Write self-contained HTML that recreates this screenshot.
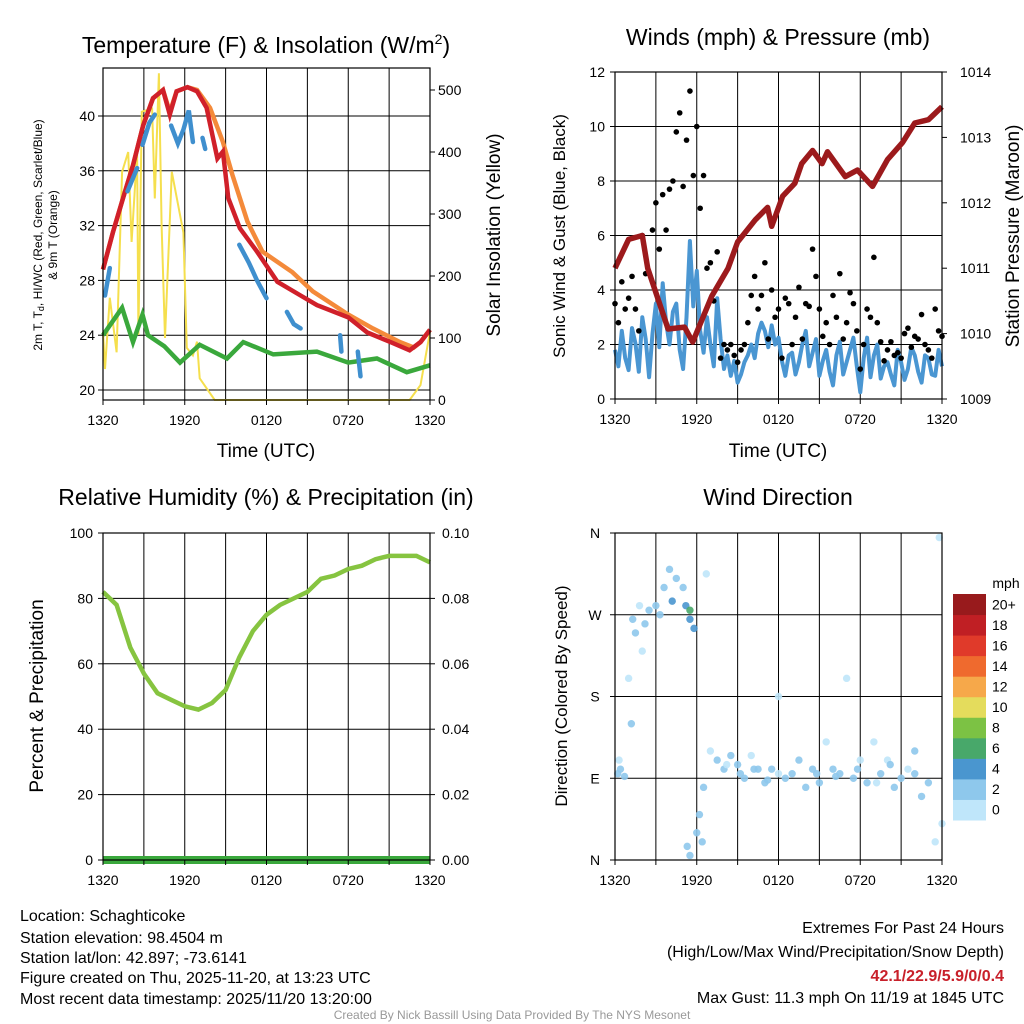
<!DOCTYPE html>
<html><head><meta charset="utf-8"><style>
body{margin:0;background:#fff;}
svg{display:block;font-family:"Liberation Sans",sans-serif;}
</style></head><body>
<svg id="s" width="1024" height="1024" viewBox="0 0 1024 1024" xmlns="http://www.w3.org/2000/svg">
<rect width="1024" height="1024" fill="#fff"/>
<g id="g"></g>
<g font-size="16" fill="#000">
<text x="20" y="921">Location: Schaghticoke</text>
<text x="20" y="943">Station elevation: 98.4504 m</text>
<text x="20" y="963">Station lat/lon: 42.897; -73.6141</text>
<text x="20" y="983">Figure created on Thu, 2025-11-20, at 13:23 UTC</text>
<text x="20" y="1004">Most recent data timestamp: 2025/11/20 13:20:00</text>
</g>
<g font-size="16" fill="#000" text-anchor="end">
<text x="1004" y="933">Extremes For Past 24 Hours</text>
<text x="1004" y="957">(High/Low/Max Wind/Precipitation/Snow Depth)</text>
<text x="1004" y="981" fill="#c8202a" font-weight="bold">42.1/22.9/5.9/0/0.4</text>
<text x="1004" y="1003">Max Gust: 11.3 mph On 11/19 at 1845 UTC</text>
</g>
<text x="512" y="1019" font-size="12" fill="#999" text-anchor="middle">Created By Nick Bassill Using Data Provided By The NYS Mesonet</text>
</svg>
<script>
// ---- data ----
const xTickLabels = ["1320","1920","0120","0720","1320"];
const redHours = [0,0.73,1.47,2.2,2.94,3.67,4.4,4.9,5.4,6.2,6.9,7.6,8.4,8.8,9.2,10.05,11.3,12.8,14.5,15.7,18,19.4,21.1,22.5,23.3,24];
const tempRed = [28.8,31.5,34.0,36.4,39.3,41.3,41.9,40.1,41.8,42.1,41.8,40.6,36.9,37.4,34.0,31.8,30.1,27.9,26.9,26.2,25.3,24.2,23.5,22.9,23.5,24.4];
const orangeHours = [0,0.73,1.47,2.2,2.94,3.67,4.4,4.9,5.4,6.2,6.9,7.85,8.8,9.5,10.6,11.7,13.9,15.4,18,19.8,21.8,22.8,23.3,24];
const tempOrange = [28.8,31.5,34.0,36.4,39.3,41.3,41.9,40.3,41.8,42.1,41.9,40.6,38.1,35.7,32.3,30.1,28.6,27.2,25.5,24.5,23.5,23.1,23.5,24.4];
const greenHours = [0,1.4,2.2,2.9,3.3,4.5,5.65,7.1,9.1,10.3,12.5,15.7,18,20.1,22.3,24];
const tempGreen = [24,26,23.5,25.5,24,23.2,22,23.3,22.3,23.5,22.6,22.8,22,22.3,21.3,21.8];
const hiSegHours = [[0.15,0.5],[1.8,2.5],[2.9,3.4,3.8],[5,5.5,5.9,6.3,6.6],[7.3,7.5],[10,10.7,11.3,12],[13.5,14,14.5],[17.4,17.5],[18.7,18.9]];
const hiSegVals = [[26.9,28.9],[34.5,36.2],[37.9,39.5,40.1],[39.3,38.0,39.0,40.4,38.1],[38.4,37.6],[30.6,29.3,28.0,26.7],[25.7,24.8,24.5],[24,22.8],[22.8,21]];
const solarHours = [0,0.15,0.5,1,1.4,1.85,2.1,2.5,2.6,2.85,3.6,3.8,4.1,4.3,4.55,5.05,5.9,6.15,6.6,6.9,7.1,8.2,22.5,23.3,24];
const solarVals = [110,50,165,77,368,400,255,400,105,465,470,325,527,282,100,368,270,84,72,94,35,0,0,24,110];
const pressureHours = [0,1,2,2.4,3.9,5.1,5.7,7.1,8.3,9,10.3,11.2,11.5,12.3,13.2,13.7,14.5,15.2,15.6,16.9,17.8,18.9,20,21.1,22,23,24];
const pressureVals = [1011.0,1011.44,1011.5,1011.0,1010.07,1010.1,1009.87,1010.57,1011.0,1011.4,1011.74,1011.93,1011.64,1012.1,1012.3,1012.6,1012.8,1012.6,1012.78,1012.4,1012.5,1012.25,1012.66,1012.92,1013.22,1013.27,1013.47];
const windVals = [1.8,2.5,1.06,2.05,3.0,0.8,3.5,4.25,2.0,3.5,1.1,5.8,4.7,1.7,2.0,3.7,1.1,0.85,0.6,1.35,2.0,2.4,2.5,2.7,2.25,0.85,1.7,1.35,2.5,1.7,0.85,1.8,0.5,2.1,1.35,2.25,0.25,2.25,1.6,0.75,1.35,0.5,1.35,1.1,1.6,0.6,1.5,0.85,1.2];
const windVals2 = [1.2,1.5,2.6,1.0,2.2,2.4,1.9,2.8,3.2,1.8,3.0,3.4,2.5,3.0,1.2,2.2,1.6,1.4,0.9,1.6,1.5,2.8,1.9,2.0,1.4,1.6,0.9,2.0,1.2,2.2,1.4,1.0,1.6,0.9,1.8,1.2,1.5,0.8,2.0,1.2,0.9,1.8,0.7,1.9,1.0,1.6,0.9,1.8];
const gustVals = [3.5,4.3,3.7,3.3,6,4.6,7.2,7.5,7.7,9.8,7.8,11.3,10,8.2,5,5.4,2.0,2.0,1.35,2,3.8,3.3,5.0,4.0,3.3,3.7,2,4.1,3.5,5.5,3.3,2.8,3.8,4.6,2.8,3.5,1.1,3.3,5.2,2.1,1.8,1.6,1.5,2.6,2.3,3.1,1.8,3.3,2.3];
const gustVals2 = [2.8,3.3,4.5,2.5,4.6,6.2,5.5,6.2,8.0,10.5,9.5,8.2,7.0,4.8,3.6,1.5,1.8,1.6,1.8,2.8,4.5,3.8,2.2,3.0,1.5,3.5,3.0,2.2,3.4,4.5,2.3,2.0,3.0,2.2,3.9,2.5,2.0,3.0,2.8,1.4,2.1,1.7,2.4,1.9,2.2,2.0,1.5,2.5];
const rhVals = [82,78,65,57,51,49,47,46,48,52,62,70,75,78,80,82,86,87,89,90,92,93,93,93,91];
const dirHours = [0.2,0.4,0.3,0.7,1,1.2,1.5,1.8,1.3,2,2.5,2.2,3,3.3,3.6,4,4.2,4.5,5,5.5,5.2,5.8,5.5,5.3,5.5,6,6.4,6.2,6.5,6.7,7,7.5,8,8.5,9,9.5,10,10.5,11,11.5,12,12,13,13.5,14,14.5,15,15.5,16,16.5,17,17.5,18,18.5,19,19.5,20,20.5,21,21.5,22,22.5,23,23.5,24,23.8,22,8.2,9.2,10.2,11.2,12.5,14.8,16.2,17.8,19.2,20.2];
const dirVals = [95,100,110,92,200,150,250,280,265,230,275,260,280,270,300,320,285,310,300,265,280,255,275,15,5,30,20,50,80,315,120,110,100,115,105,90,115,100,85,100,95,180,95,110,80,100,85,130,100,95,200,90,110,85,130,95,110,80,90,100,95,70,85,20,40,355,120,105,95,100,88,90,95,92,100,85,105];
const dirSpd = [2,3,1,3,1,3,2,1,2,1,3,2,3,2,3,3,4,3,2,4,5,4,6,3,3,3,2,3,3,1,1,2,2,2,3,2,1,3,3,2,1,1,2,2,3,2,2,1,2,3,1,2,1,2,1,2,1,2,2,1,2,2,3,1,1,1,2,1,2,2,3,2,3,2,2,1,2];
const cbarLabels = ["0","2","4","6","8","10","12","14","16","18","20+"];
const cbarColors = ["#bfe6fa","#8ec8ec","#4a96cf","#48a86a","#7cc244","#e4dc5c","#f6a84a","#ef6a2e","#e03a2a","#c01f24","#981a1c"];

const NS="http://www.w3.org/2000/svg";
const G=document.getElementById('g');
function mk(tag,attrs,parent){const e=document.createElementNS(NS,tag);for(const k in attrs)e.setAttribute(k,attrs[k]);(parent||G).appendChild(e);return e;}
function txt(x,y,s,size,anchor,parent,rot){const e=mk('text',{x:x,y:y,'font-size':size,'text-anchor':anchor||'middle'},parent);if(rot)e.setAttribute('transform','rotate(-90 '+x+' '+y+')');e.textContent=s;return e;}
function lin(a0,a1,p0,p1){return v=>p0+(v-a0)*(p1-p0)/(a1-a0);}
function pathFrom(xs,ys){let d='';for(let i=0;i<xs.length;i++){if(ys[i]==null)continue;d+=(d===''||ys[i-1]==null?'M':'L')+xs[i].toFixed(1)+','+ys[i].toFixed(1);}return d;}

function frame(L,T,R,B,name){
  const g=mk('g',{});
  
  
  for(let i=1;i<8;i++){const x=L+(R-L)*i/8;mk('line',{x1:x,x2:x,y1:T,y2:B,stroke:'#000','stroke-width':1},g);}
  return g;
}
function border(g,L,T,R,B){mk('rect',{x:L,y:T,width:R-L,height:B-T,fill:'none',stroke:'#000','stroke-width':1.2},g);}
function xTicks(g,L,R,B){
  const ax=mk('g',{},g);
  
  
  for(let i=0;i<=8;i++){const x=L+(R-L)*i/8;mk('line',{x1:x,x2:x,y1:B,y2:B+5,stroke:'#000'},ax);}
  xTickLabels.forEach((s,i)=>txt(L+(R-L)*i/4,B+25,s,14,'middle',ax));
}
function hgrid(g,L,R,ys){ys.forEach(y=>mk('line',{x1:L,x2:R,y1:y,y2:y,stroke:'#000','stroke-width':1},g));}

// ===== Panel 1 =====
(function(){
  const L=103,R=430,T=68,B=400;
  const g=frame(L,T,R,B,'temperature-panel');
  const X=lin(0,24,L,R), Y=lin(20,40,390,116), YS=lin(0,500,400,90);
  const ticks=[20,24,28,32,36,40];
  hgrid(g,L,R,ticks.map(Y));
  let p=mk('path',{d:pathFrom(solarHours.map(X),solarVals.map(YS)),fill:'none',stroke:'#f5df4d','stroke-width':2},g);
  
  p=mk('path',{d:pathFrom(greenHours.map(X),tempGreen.map(Y)),fill:'none',stroke:'#3aa83c','stroke-width':4.5},g);
  
  p=mk('path',{d:pathFrom(orangeHours.map(X),tempOrange.map(Y)),fill:'none',stroke:'#f48a3a','stroke-width':4.5},g);
  
  p=mk('path',{d:pathFrom(redHours.map(X),tempRed.map(Y)),fill:'none',stroke:'#d0202a','stroke-width':4.5},g);
  
  hiSegHours.forEach((hs,k)=>{
    const q=mk('path',{d:pathFrom(hs.map(X),hiSegVals[k].map(Y)),fill:'none',stroke:'#3f8fce','stroke-width':4.5,'stroke-linecap':'round'},g);
    
  });
  border(g,L,T,R,B);
  xTicks(g,L,R,B);
  ticks.forEach(v=>{mk('line',{x1:L-5,x2:L,y1:Y(v),y2:Y(v),stroke:'#000'},g);txt(L-8,Y(v)+5,String(v),14,'end',g);});
  [0,100,200,300,400,500].forEach(v=>{mk('line',{x1:R,x2:R+5,y1:YS(v),y2:YS(v),stroke:'#000'},g);txt(R+8,YS(v)+5,String(v),14,'start',g);});
  const t=txt(266,53,'Temperature (F) & Insolation (W/m',23,'middle',g);
  const sup=mk('tspan',{'font-size':14,dy:-9},t);sup.textContent='2';
  const cl=mk('tspan',{dy:9},t);cl.textContent=')';
  txt(266,457,'Time (UTC)',19,'middle',g);
  txt(500,235,'Solar Insolation (Yellow)',19,'middle',g,true);
  txt(42,235,'2m T, T',12,'middle',g,true).innerHTML='2m T, T<tspan font-size="9" dy="2">d</tspan><tspan dy="-2">, HI/WC (Red, Green, Scarlet/Blue)</tspan>';
  txt(57,235,'& 9m T (Orange)',12,'middle',g,true);
})();

// ===== Panel 2 =====
(function(){
  const L=615,R=942,T=72,B=399;
  const g=frame(L,T,R,B,'wind-pressure-panel');
  const X=lin(0,24,L,R), Y=lin(0,12,B,T), YP=lin(1009,1014,B,T);
  hgrid(g,L,R,[2,4,6,8,10].map(Y));
  const xsW=[],ysW=[];
  for(let i=0;i<windVals.length;i++){xsW.push(X(i*0.5));ysW.push(Y(windVals[i]));if(i<windVals2.length){xsW.push(X(i*0.5+0.25));ysW.push(Y(windVals2[i]));}}
  let p=mk('path',{d:pathFrom(xsW,ysW),fill:'none',stroke:'#4a96d2','stroke-width':4,'stroke-linejoin':'round'},g);
  
  gustVals.forEach((v,i)=>{const c=mk('circle',{cx:X(i*0.5),cy:Y(v),r:2.8,fill:'#000'},g);});
  gustVals2.forEach((v,i)=>{const c=mk('circle',{cx:X(i*0.5+0.25),cy:Y(v),r:2.8,fill:'#000'},g);});
  p=mk('path',{d:pathFrom(pressureHours.map(X),pressureVals.map(YP)),fill:'none',stroke:'#9c1a1c','stroke-width':5.5,'stroke-linejoin':'round'},g);
  
  border(g,L,T,R,B);
  xTicks(g,L,R,B);
  [0,2,4,6,8,10,12].forEach(v=>{mk('line',{x1:L-5,x2:L,y1:Y(v),y2:Y(v),stroke:'#000'},g);txt(L-10,Y(v)+5,String(v),14,'end',g);});
  [1009,1010,1011,1012,1013,1014].forEach(v=>{mk('line',{x1:R,x2:R+5,y1:YP(v),y2:YP(v),stroke:'#000'},g);txt(R+18,YP(v)+5,String(v),14,'start',g);});
  txt(778,45,'Winds (mph) & Pressure (mb)',23,'middle',g);
  txt(778,457,'Time (UTC)',19,'middle',g);
  txt(565,236,'Sonic Wind & Gust (Blue, Black)',17,'middle',g,true);
  txt(1019,236,'Station Pressure (Maroon)',19,'middle',g,true);
})();

// ===== Panel 3 =====
(function(){
  const L=103,R=430,T=533,B=860;
  const g=frame(L,T,R,B,'humidity-precip-panel');
  const X=lin(0,24,L,R), Y=lin(0,100,B,T);
  hgrid(g,L,R,[20,40,60,80].map(Y));
  let p=mk('path',{d:pathFrom(rhVals.map((_,i)=>X(i)),rhVals.map(Y)),fill:'none',stroke:'#86c440','stroke-width':4.5},g);
  
  p=mk('line',{x1:L,x2:R,y1:B,y2:B,stroke:'#3aa83c','stroke-width':8},g);
  
  border(g,L,T,R,B);
  xTicks(g,L,R,B);
  [0,20,40,60,80,100].forEach(v=>{mk('line',{x1:L-5,x2:L,y1:Y(v),y2:Y(v),stroke:'#000'},g);txt(L-10,Y(v)+5,String(v),14,'end',g);
    mk('line',{x1:R,x2:R+5,y1:Y(v),y2:Y(v),stroke:'#000'},g);txt(R+12,Y(v)+5,(v/1000).toFixed(2),14,'start',g);});
  txt(266,505,'Relative Humidity (%) & Precipitation (in)',23,'middle',g);
  txt(43,696,'Percent & Precipitation',19,'middle',g,true);
})();

// ===== Panel 4 =====
(function(){
  const L=615,R=942,T=533,B=860;
  const g=frame(L,T,R,B,'wind-direction-panel');
  const X=lin(0,24,L,R), Y=lin(0,360,B,T);
  hgrid(g,L,R,[90,180,270].map(Y));
  dirVals.forEach((d,i)=>{
    const ci=Math.min(10,Math.floor(dirSpd[i]/2));
    const c=mk('circle',{cx:X(dirHours[i]),cy:Y(d),r:3.7,fill:cbarColors[ci],'fill-opacity':0.9},g);
    
  });
  border(g,L,T,R,B);
  xTicks(g,L,R,B);
  ["N","E","S","W","N"].forEach((s,i)=>{const y=Y(i*90);mk('line',{x1:L-5,x2:L,y1:y,y2:y,stroke:'#000'},g);txt(L-20,y+5,s,14,'middle',g);});
  txt(778,505,'Wind Direction',23,'middle',g);
  txt(567,696,'Direction (Colored By Speed)',17,'middle',g,true);
  const cb=mk('g',{},g);
  
  
  const cT=594,cB=820,h=(cB-cT)/11;
  cbarColors.forEach((c,i)=>{mk('rect',{x:953,y:cB-(i+1)*h,width:33,height:h+0.5,fill:c},cb);txt(992,cB-(i+0.5)*h+5,cbarLabels[i],14,'start',cb);});
  txt(1006,588,'mph',14,'middle',cb);
})();
</script>
</body></html>
